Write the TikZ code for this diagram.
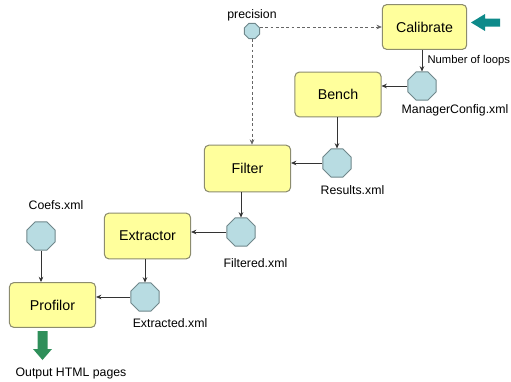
\documentclass[tikz,border=0pt]{standalone}
\usepackage{fontspec}
\setmainfont{Liberation Sans}
\usetikzlibrary{shapes.geometric,arrows.meta}

\definecolor{boxfill}{HTML}{FFFF9C}
\definecolor{boxline}{HTML}{8C8C6E}
\definecolor{octfill}{HTML}{B8DCE2}
\definecolor{octline}{HTML}{6F878B}
\definecolor{tealarrow}{HTML}{0E8A8A}
\definecolor{greenarrow}{HTML}{2F8F5A}

\tikzset{
	box/.style={draw=boxline, fill=boxfill, line width=0.6pt, rounded corners=2.5pt,
		minimum width=49pt, minimum height=25.5pt, inner sep=0pt, font=\fontsize{8.1}{9}\selectfont},
	xmlfile/.style={draw=octline, fill=octfill, line width=0.5pt, regular polygon, regular polygon sides=8,
		inner sep=0pt, minimum size=0.61cm},
	lbl/.style={font=\fontsize{7}{8}\selectfont, inner sep=0pt},
	flow/.style={draw=black!80, line width=0.4pt, -{Stealth[length=3pt,width=2.6pt]}},
	dashflow/.style={flow, draw=black!60, dash pattern=on 1.6pt off 1.4pt},
}

\begin{document}
\begin{tikzpicture}[x=0.02cm, y=-0.02cm]
	\useasboundingbox (0,0) rectangle (511,382);

	% processing steps
	\node[box, minimum width=48pt] (cal) at (424.5, 27) {Calibrate};
	\node[box] (bench) at (338, 94.5) {Bench};
	\node[box, minimum height=26.5pt] (filter) at (247.5, 168.5) {Filter};
	\node[box, minimum height=26pt] (extractor) at (147.5, 236) {Extractor};
	\node[box] (profilor) at (52.5, 305) {Profilor};

	% xml files
	\node[xmlfile] (mgr) at (422, 86) {};
	\node[xmlfile] (res) at (337, 163) {};
	\node[xmlfile] (filt) at (241, 232) {};
	\node[xmlfile] (extr) at (145, 297) {};
	\node[xmlfile] (coefs) at (41, 236) {};
	\node[xmlfile, minimum size=0.33cm] (prec) at (252, 31) {};

	\node[lbl] (precl) at (252, 15) {precision};
	\node[lbl] (mgrl) at (455, 110) {ManagerConfig.xml};
	\node[lbl] (resl) at (352.5, 190) {Results.xml};
	\node[lbl] (filtl) at (255.5, 263) {Filtered.xml};
	\node[lbl] (extrl) at (170, 323) {Extracted.xml};
	\node[lbl] (coefsl) at (56, 205) {Coefs.xml};
	\node[lbl] (outl) at (71, 373) {Output HTML pages};

	% connectors
	\draw[dashflow] (prec.east |- cal.west) -- (cal.west);
	\draw[dashflow] (prec.south) -- (prec.south |- filter.north);
	\draw[flow] (mgr.north |- cal.south) -- node[lbl, anchor=west, xshift=3pt, font=\fontsize{6.4}{7}\selectfont] (loops) {Number of loops} (mgr.north);
	\draw[flow] (mgr.west) -- (mgr.west -| bench.east);
	\draw[flow] (bench.south -| res.north) -- (res.north);
	\draw[flow] (res.west) -- (res.west -| filter.east);
	\draw[flow] (filt.north |- filter.south) -- (filt.north);
	\draw[flow] (filt.west) -- (filt.west -| extractor.east);
	\draw[flow] (extr.north |- extractor.south) -- (extr.north);
	\draw[flow] (extr.west) -- (extr.west -| profilor.east);
	\draw[flow] (coefs.south) -- (coefs.south |- profilor.north);

	% block arrows
	\fill[tealarrow] (471, 22.5) -- (485, 14) -- (485, 18.5) -- (500, 18.5) -- (500, 26.5) -- (485, 26.5) -- (485, 31) -- cycle;
	\fill[greenarrow] (37.5, 331) -- (47.5, 331) -- (47.5, 349) -- (52, 349) -- (42.5, 360) -- (33, 349) -- (37.5, 349) -- cycle;
\end{tikzpicture}
\end{document}
